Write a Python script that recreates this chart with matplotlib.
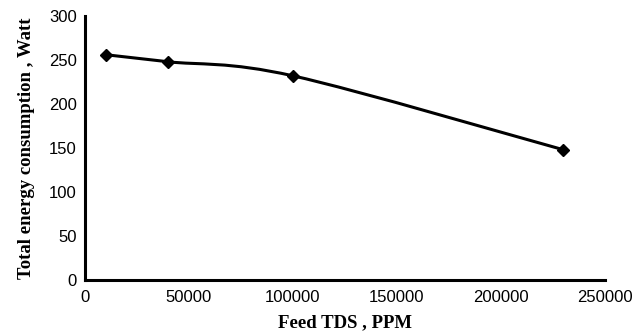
import numpy as np
import matplotlib.pyplot as plt
from matplotlib.path import Path
from matplotlib.patches import PathPatch

feed_tds = [10000, 40000, 100000, 230000]
energy = [256, 248, 232, 148]

plt.rcParams['font.family'] = 'Liberation Sans'

fig = plt.figure(figsize=(6.43, 3.33), dpi=100)
ax = fig.add_axes([85/643, 53/333, 520/643, 264/333])

# smoothed line like the spreadsheet one (Catmull-Rom as Bezier)
pts = np.column_stack([feed_tds, energy]).astype(float)
verts = [pts[0]]
codes = [Path.MOVETO]
for i in range(len(pts) - 1):
    p0 = pts[i - 1] if i > 0 else pts[i]
    p1 = pts[i]
    p2 = pts[i + 1]
    p3 = pts[i + 2] if i + 2 < len(pts) else pts[i + 1]
    verts += [p1 + (p2 - p0) / 6, p2 - (p3 - p1) / 6, p2]
    codes += [Path.CURVE4] * 3
ax.add_patch(PathPatch(Path(verts, codes), fill=False, lw=2.2, ec='black'))
ax.plot(feed_tds, energy, ls='none', marker='D', ms=6, color='black')

ax.set_xlim(0, 250000)
ax.set_ylim(0, 300)
ax.set_xticks(np.arange(0, 250001, 50000))
ax.set_yticks(np.arange(0, 301, 50))
ax.tick_params(length=0, labelsize=12, pad=7)
ax.tick_params(axis='y', pad=6)
for s in ['top', 'right']:
    ax.spines[s].set_visible(False)
for s in ['left', 'bottom']:
    ax.spines[s].set_linewidth(2.2)

ax.set_xlabel('Feed TDS , PPM', fontfamily='Liberation Serif', fontweight='bold', fontsize=13.5, labelpad=7)
ax.set_ylabel('Total energy consumption , Watt', fontfamily='Liberation Serif', fontweight='bold', fontsize=13.5, labelpad=10)

fig.savefig('out.png', dpi=100)
